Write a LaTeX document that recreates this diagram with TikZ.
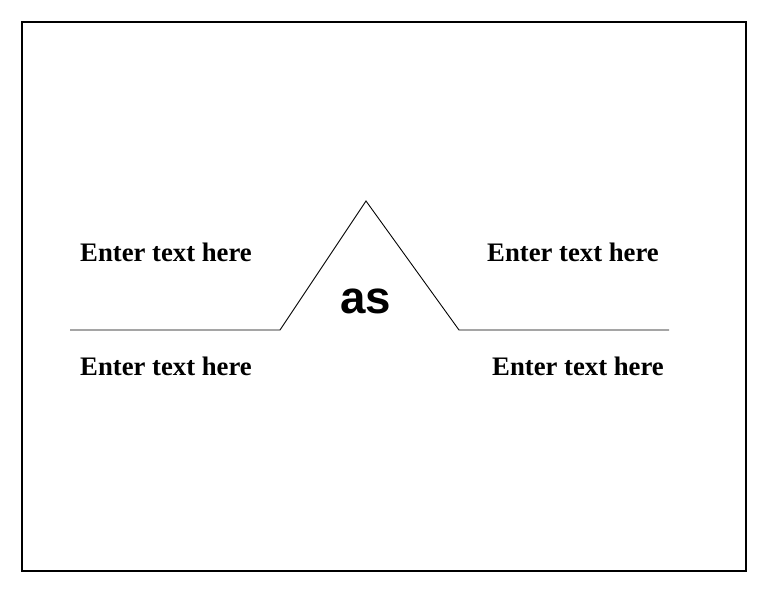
\documentclass[tikz,border=0pt]{standalone}
\usepackage{fontspec}
\setmainfont{Liberation Serif}
\newfontfamily\labelsans{Liberation Sans}
\begin{document}
\begin{tikzpicture}
  [x=0.02cm,y=-0.02cm,
   % Styles
   frame line/.style={line width=1.5pt},
   entry text/.style={font=\fontsize{15.2}{17}\selectfont\bfseries,inner sep=0pt},
   key text/.style={font=\fontsize{26}{30}\selectfont\labelsans\bfseries,inner sep=0pt}]

  \useasboundingbox (0,0) rectangle (768,594);

  % The frame
  \draw[frame line] (22,22) rectangle (746,571);

  % The roof line
  \coordinate (lstart) at (70,330);
  \coordinate (lfoot) at (280,330);
  \coordinate (peak) at (366,201);
  \coordinate (rfoot) at (459,330);
  \coordinate (rend) at (669,330);
  \draw[line width=0.5pt] (lstart) -- (lfoot) -- (peak) -- (rfoot) -- (rend);

  % Texts
  \node[key text] (key) at (366,301) {as};
  \node[entry text] (upleft) at (166,252) {Enter text here};
  \node[entry text] (upright) at (573,252) {Enter text here};
  \node[entry text] (lowleft) at (166,366) {Enter text here};
  \node[entry text] (lowright) at (578,366) {Enter text here};
\end{tikzpicture}
\end{document}
